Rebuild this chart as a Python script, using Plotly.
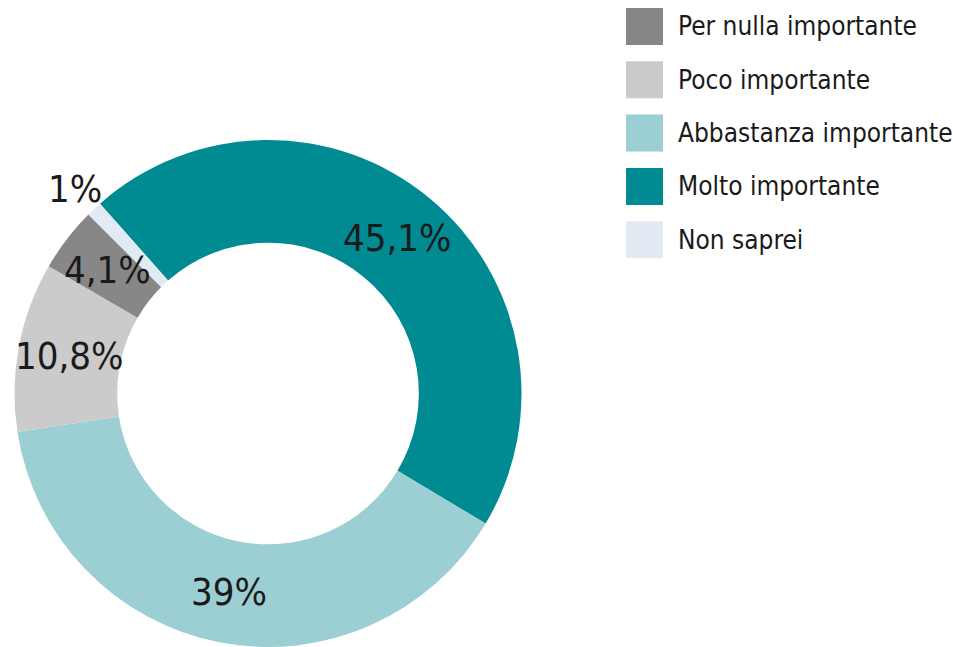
import math
import plotly.graph_objects as go

# データ（凡例の順）
LABELS = ['Per nulla importante', 'Poco importante', 'Abbastanza importante',
          'Molto importante', 'Non saprei']
VALUES = [4.1, 10.8, 39.0, 45.1, 1.0]
TEXTS = ['4,1%', '10,8%', '39%', '45,1%', '1%']
COLORS = ['#878787', '#cbcbcb', '#9bcfd4', '#008b92', '#e2eaf4']

# 円グラフ上の並び（時計回り、Molto から）
PIE_ORDER = [3, 2, 1, 0, 4]
OUTSIDE = ['1%']  # 外側に置くラベル

FONT = 'Liberation Sans Narrow, DejaVu Sans Condensed, Arial Narrow, sans-serif'
W, H = 953, 647
HOLE = 0.595
ROTATION = -41.5
DOM_X = [13 / W, 523 / W]
DOM_Y = [0, 507 / H]

fig = go.Figure()
fig.add_trace(go.Pie(
    labels=[LABELS[i] for i in PIE_ORDER],
    values=[VALUES[i] for i in PIE_ORDER],
    marker=dict(colors=[COLORS[i] for i in PIE_ORDER], line=dict(width=0)),
    textinfo='none',
    hole=HOLE,
    sort=False,
    direction='clockwise',
    rotation=ROTATION,
    showlegend=False,
    domain=dict(x=DOM_X, y=DOM_Y),
))

# スライスのラベル（値から角度を計算）
cx = (DOM_X[0] + DOM_X[1]) / 2
cy = (DOM_Y[0] + DOM_Y[1]) / 2
R = min((DOM_X[1] - DOM_X[0]) * W, (DOM_Y[1] - DOM_Y[0]) * H) / 2
total = sum(VALUES)
annotations = []
start = ROTATION
for i in PIE_ORDER:
    span = VALUES[i] / total * 360
    mid = math.radians(start + span / 2)
    start += span
    r = R * 1.11 if TEXTS[i] in OUTSIDE else R * (1 + HOLE) / 2
    annotations.append(dict(
        text=TEXTS[i], xref='paper', yref='paper',
        x=cx + r * math.sin(mid) / W, y=cy + r * math.cos(mid) / H,
        xanchor='center', yanchor='middle', showarrow=False,
        font=dict(family=FONT, size=38, color='#1a1a1a'),
    ))

# 凡例（四角＋テキスト）
shapes = []
for k, (lab, col) in enumerate(zip(LABELS, COLORS)):
    top = 8 + k * 53.3
    shapes.append(dict(
        type='rect', xref='paper', yref='paper',
        x0=626 / W, x1=663 / W, y0=1 - (top + 37) / H, y1=1 - top / H,
        fillcolor=col, line=dict(width=0),
    ))
    annotations.append(dict(
        text=lab, xref='paper', yref='paper',
        x=676 / W, y=1 - (top + 18.5) / H, xanchor='left', yanchor='middle',
        showarrow=False, font=dict(family=FONT, size=26, color='#1a1a1a'),
    ))

fig.update_layout(
    width=W, height=H,
    margin=dict(l=0, r=0, t=0, b=0),
    paper_bgcolor='white',
    plot_bgcolor='white',
    shapes=shapes,
    annotations=annotations,
)

fig.write_html('out.html', config={'displayModeBar': False},
               post_script="document.body.style.margin='0';")
